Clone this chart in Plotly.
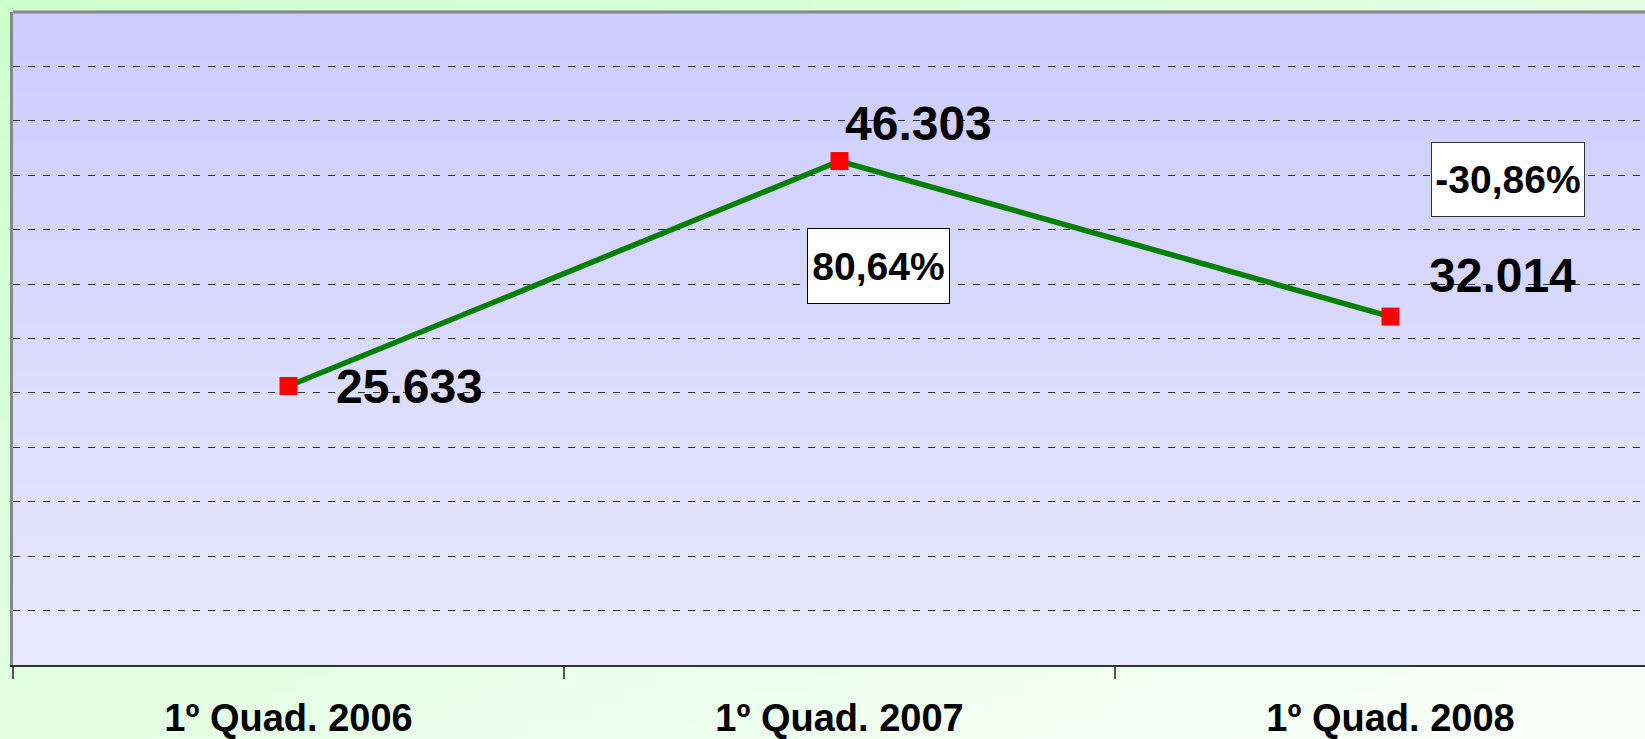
import plotly.graph_objects as go

# ---- data ----
categories = ["1º Quad. 2006", "1º Quad. 2007", "1º Quad. 2008"]
values = [25633, 46303, 32014]

W, H = 1645, 739
ML, MR, MT, MB = 13, 0, 12, 74

def fmt_int(v):
    return f"{v:,}".replace(",", ".")

def fmt_pct(p):
    return f"{p:.2f}".replace(".", ",") + "%"

changes = [(values[i] / values[i - 1] - 1) * 100 for i in range(1, len(values))]

FONT = "Liberation Sans, Arial, Helvetica, sans-serif"

fig = go.Figure()
fig.add_trace(go.Scatter(
    x=categories, y=values, mode="lines+markers",
    line=dict(color="#008000", width=5.5),
    marker=dict(symbol="square", size=18, color="#ff0000", line=dict(width=0)),
    hoverinfo="skip", showlegend=False,
))

shapes = []
pw = W - ML - MR
ph = H - MT - MB

def px2paper(px, py):
    return (px - ML) / pw, (H - MB - py) / ph

def green(px, py):
    t = (px / W + py / H) / 2.0
    c = int(round(204 + (250 - 204) * t))
    return f"rgb({c},255,{c})"

def add_cell(x0, y0, x1, y1):
    a0, b1 = px2paper(x0, y0)
    a1, b0 = px2paper(min(x1, W), y1)
    shapes.append(dict(type="rect", xref="paper", yref="paper",
                       x0=a0, x1=a1, y0=b0, y1=b1, layer="below",
                       line=dict(width=0),
                       fillcolor=green((x0 + x1) / 2, (y0 + y1) / 2)))

step = 30
for x in range(0, W, step):
    add_cell(x, 0, x + step + 1, MT + 2)
for y in range(0, H, 20):
    add_cell(0, y, ML + 2, y + 21)
for x in range(0, W, step):
    for y in range(H - MB - 2, H, 15):
        add_cell(x, y, x + step + 1, y + 16)

# plot area gradient (vertical, lavender)
nb = 40
ymax = 60000
for i in range(nb):
    t = i / (nb - 1)
    r = int(round(232 + (204 - 232) * t))
    b = int(round(253 + (255 - 253) * t))
    shapes.append(dict(type="rect", xref="paper", yref="paper",
                       x0=0, x1=1.0, y0=i / nb, y1=(i + 1) / nb + 0.002,
                       layer="below", line=dict(width=0),
                       fillcolor=f"rgb({r},{r},{b})"))

shapes.append(dict(type="line", xref="paper", yref="paper", x0=0, x1=1, y0=1, y1=1,
                   line=dict(color="#888888", width=3), layer="above"))

annotations = []
val_shift = [(45, 0), (3, 38), (36, 41)]
for c, v, (dx, dy) in zip(categories, values, val_shift):
    annotations.append(dict(x=c, y=v, xref="x", yref="y", text=fmt_int(v),
                            showarrow=False, xanchor="left", yanchor="middle",
                            xshift=dx, yshift=dy,
                            font=dict(family=FONT, size=48, color="#000000", weight="bold")))

box_cfg = [(39, -105, 141, 74, "#000000"), (117, 137, 152, 73, "#333333")]
for i, (p, (dx, dy, bw, bh, bc)) in enumerate(zip(changes, box_cfg)):
    annotations.append(dict(x=categories[i + 1], y=values[i + 1], xref="x", yref="y",
                            text=fmt_pct(p), showarrow=False,
                            xanchor="center", yanchor="middle",
                            xshift=dx, yshift=dy, width=bw, height=bh,
                            align="center", valign="middle",
                            bgcolor="#ffffff", bordercolor=bc, borderwidth=1, borderpad=0,
                            font=dict(family=FONT, size=39, color="#000000", weight="bold")))

fig.update_layout(
    width=W, height=H,
    margin=dict(l=ML, r=MR, t=MT, b=MB, pad=0, autoexpand=False),
    paper_bgcolor="rgb(227,255,227)",
    plot_bgcolor="rgba(0,0,0,0)",
    shapes=shapes,
    annotations=annotations,
    showlegend=False,
    xaxis=dict(
        type="category", categoryorder="array", categoryarray=categories,
        range=[-0.5, -0.5 + pw / 551.0],
        tickson="boundaries", ticks="outside", ticklen=12, tickwidth=2, tickcolor="#555555",
        showline=True, linecolor="#333333", linewidth=2,
        showgrid=False, zeroline=False, automargin=False,
        tickfont=dict(family=FONT, size=38, color="#000000", weight="bold"),
        ticklabelstandoff=18,
        fixedrange=True,
    ),
    yaxis=dict(
        range=[0, ymax], dtick=5000, tick0=0,
        showticklabels=False, ticks="",
        showgrid=True, gridcolor="#333333", gridwidth=1, griddash="7px,8px",
        showline=True, linecolor="#888888", linewidth=3,
        zeroline=False, fixedrange=True, automargin=False,
    ),
)

fig.write_html("out.html", config={"displayModeBar": False, "responsive": False},
               post_script=("document.documentElement.style.overflow='hidden';"
                            "document.body.style.overflow='hidden';"
                            "document.body.style.margin='0';"))
